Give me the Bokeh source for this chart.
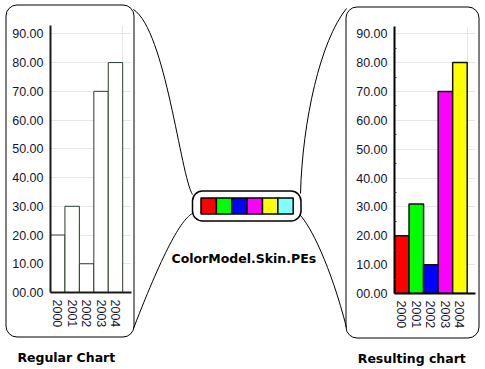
from bokeh.plotting import figure
from bokeh.models import Range1d, FixedTicker, BoxAnnotation, GridBox, ColumnDataSource
from bokeh.embed import file_html
from bokeh.resources import INLINE
from bokeh.core.properties import value

# ---- data ----
years = ["2000", "2001", "2002", "2003", "2004"]
regular_values = [20, 30, 10, 70, 80]
result_values = [20, 31, 10, 70, 80]
regular_fill = ["white", "white", "white", "white", "white"]
skin_colors = ["#FF0000", "#00FF00", "#0000FF", "#FF00FF", "#FFFF00", "#80FFFF"]
y_ticks = [0, 10, 20, 30, 40, 50, 60, 70, 80, 90]
y_tick_labels = ["00.00", "10.00", "20.00", "30.00", "40.00",
                 "50.00", "60.00", "70.00", "80.00", "90.00"]
y_minor = [5, 15, 25, 35, 45, 55, 65, 75, 85]

LABEL_COLOR = "#141430"


def make_chart(vals, fills, bar_line, bar_lw, ymax, xspan, axis_color, minor):
    p = figure(width=128, height=328,
               x_range=Range1d(0.5, 0.5 + xspan), y_range=Range1d(0, ymax),
               output_backend="svg", toolbar_location=None,
               min_border_left=44, min_border_right=3,
               min_border_top=19, min_border_bottom=42,
               background_fill_color=None, border_fill_color=None,
               outline_line_color=None)
    xs = list(range(1, len(years) + 1))
    src = ColumnDataSource(dict(x=xs, top=vals, fill=fills[:len(years)]))
    p.vbar(x="x", top="top", bottom=0, width=1, fill_color="fill",
           line_color=bar_line, line_width=bar_lw, source=src)

    # x axis
    p.xaxis.ticker = FixedTicker(ticks=xs)
    p.xaxis.major_label_overrides = {x: y for x, y in zip(xs, years)}
    p.xaxis.major_label_orientation = "vertical"
    # y axis
    p.yaxis.ticker = FixedTicker(ticks=y_ticks, minor_ticks=(y_minor if minor else []))
    p.yaxis.major_label_overrides = {t: l for t, l in zip(y_ticks, y_tick_labels)}

    for ax in (p.xaxis, p.yaxis):
        ax.axis_line_color = axis_color
        ax.axis_line_width = 2
        ax.major_tick_line_color = None
        ax.major_tick_in = 0
        ax.major_tick_out = 0
        ax.major_label_standoff = 7
        ax.major_label_text_font = "Liberation Sans"
        ax.major_label_text_font_size = "12.5px"
        ax.major_label_text_color = LABEL_COLOR
    p.xaxis.minor_tick_line_color = None
    if minor:
        p.yaxis.minor_tick_in = 2
        p.yaxis.minor_tick_out = 0
        p.yaxis.minor_tick_line_color = "#333333"
    else:
        p.yaxis.minor_tick_line_color = None

    p.ygrid.ticker = FixedTicker(ticks=y_ticks[1:])
    p.xgrid.ticker = FixedTicker(ticks=[len(years) + 0.5])
    p.grid.grid_line_color = "#e6e6e6"
    p.grid.grid_line_width = 1
    return p


left = make_chart(regular_values, regular_fill, "#2b3a2b", 1, 92.9, 5.61, "#1a1a1a", False)
right = make_chart(result_values, skin_colors, "#111111", 1.5, 92.5, 5.57, "#000000", True)

# ---- background canvas with decorations ----
bg = figure(width=485, height=369, x_range=Range1d(0, 485), y_range=Range1d(369, 0),
            output_backend="svg", toolbar_location=None, min_border=0,
            x_axis_type=None, y_axis_type=None,
            background_fill_color="white", border_fill_color="white",
            outline_line_color=None)
bg.grid.visible = False

for l, r, t, b, rad, lw in [(5.5, 133.5, 4.5, 336.5, 11, 1),
                            (345.5, 478.5, 6.5, 337.5, 11, 1),
                            (192, 300.5, 190.5, 220.5, 10, 1.5)]:
    bg.add_layout(BoxAnnotation(left=l, right=r, top=t, bottom=b,
                                border_radius=rad, fill_color=None, fill_alpha=0,
                                line_color="black", line_alpha=1, line_width=lw))

# connector curves
bg.bezier(x0=[133, 192, 346, 299], y0=[9, 213, 8, 214],
          x1=[192, 133, 300, 346], y1=[194, 328, 193, 327],
          cx0=[165, 182, 320, 310], cy0=[30, 218, 40, 225],
          cx1=[180, 165, 302, 330], cy1=[175, 245, 120, 265],
          line_color="black", line_width=1)

# colour model swatches
sw_w = (292.7 - 200.5) / len(skin_colors)
sw_left = [200.5 + i * sw_w for i in range(len(skin_colors))]
sw_right = [l + sw_w for l in sw_left]
bg.quad(left=sw_left, right=sw_right, top=197.5, bottom=213.5,
        fill_color=skin_colors, line_color="black", line_width=1.5)

captions = ["Regular Chart", "ColorModel.Skin.PEs", "Resulting chart"]
bg.text(x=[65.8, 243.3, 411.3], y=[356.5, 257.5, 358.2], text=captions,
        text_align="center", text_baseline="alphabetic",
        text_font=value("DejaVu Sans"), text_font_style="bold",
        text_font_size="12.5px", text_color="#000000")

root = GridBox(children=[(bg, 0, 0, 5, 5), (left, 1, 1, 2, 1), (right, 2, 3, 2, 1)],
               rows=["6px", "1px", "327px", "1px", "34px"],
               cols=["6px", "128px", "216px", "128px", "7px"],
               spacing=0,
               styles={"position": "absolute", "left": "0px", "top": "0px"})

open("out.html", "w").write(file_html(root, INLINE))
